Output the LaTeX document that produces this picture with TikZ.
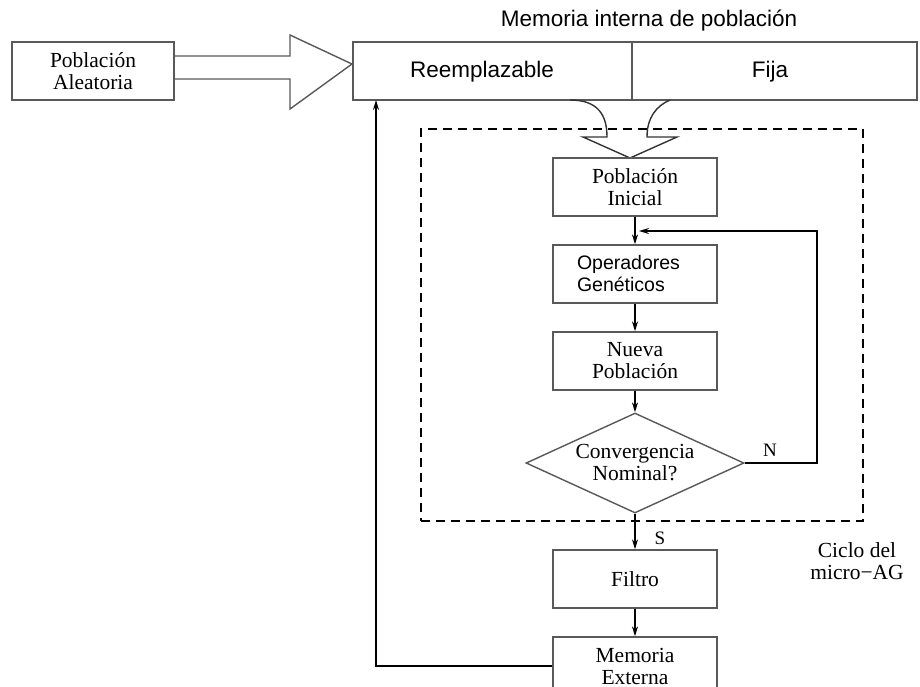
\documentclass[tikz,border=0pt]{standalone}
\usepackage{fontspec}
\setmainfont{Liberation Serif}
\newfontfamily\arialf{Liberation Sans}
\usetikzlibrary{shapes.geometric,arrows.meta}
\newcommand\serifsz{\fontsize{21.5}{22}\selectfont}
\newcommand\sanssz{\arialf\fontsize{22.5}{24}\selectfont}
\newcommand\opsz{\arialf\fontsize{19.5}{22}\selectfont}
\begin{document}
\begin{tikzpicture}[x=1pt,y=-1pt,
  box/.style={draw=black!65,line width=1.4pt,minimum width=164pt,minimum height=58pt,inner sep=0pt,align=center,font=\serifsz},
  arr/.style={line width=1.4pt,draw=black,-{Stealth[length=10pt,width=6pt]}},
  conn/.style={line width=1.4pt,draw=black},
  plain/.style={inner sep=0pt,align=center},
  blockarrow/.style={line width=1.4pt,draw=black!65,line join=miter}
]
\useasboundingbox (0,0) rectangle (920,686);
\fill[white] (0,0) rectangle (920,686);

% left input box
\node[box,minimum width=162pt] (pa) at (93,71) {Población\\Aleatoria};

% memory box
\node[draw=black!65,line width=1.4pt,minimum width=564pt,minimum height=58pt,inner sep=0pt] (mem) at (635,71) {};
\coordinate (divtop) at (632,42);
\coordinate (divbot) at (632,100);
\draw[line width=1.4pt,black!65] (divtop) -- (divbot);
\node[plain,font=\sanssz] (title) at (649,21) {Memoria interna de población};
\node[plain,font=\sanssz] (reem) at (482,72) {Reemplazable};
\node[plain,font=\sanssz] (fija) at (770,72) {Fija};

% big block arrow
\draw[blockarrow] (174,56) -- (290,56) -- (290,35) -- (352,64) -- (290,109) -- (290,79) -- (174,79);

% dashed cycle box
\node[draw=black,dash pattern=on 9pt off 6pt,line width=1.4pt,minimum width=442pt,minimum height=392pt,inner sep=0pt] (cyc) at (642,325) {};

% merging curved arrow
\draw[line width=1.4pt,black!80,line join=miter] (570,100) .. controls (598,100) and (607,115) .. (607,137) -- (583,137) -- (630,158) -- (677,137) -- (647,137) .. controls (647,118) and (656,106) .. (670,100);

% flow nodes
\node[box] (pi) at (635,187) {Población\\Inicial};
\node[box,text width=116pt,align=left,font=\opsz] (og) at (635,274) {Operadores\\Genéticos};
\node[box] (np) at (635,361) {Nueva\\Población};
\node[diamond,draw=black!65,line width=1.4pt,aspect=2.18,minimum width=218pt,minimum height=100pt,inner sep=0pt,align=center,font=\serifsz] (conv) at (635,463) {Convergencia\\Nominal?};
\node[box] (fil) at (635,579) {Filtro};
\node[box] (me) at (635,666) {Memoria\\Externa};

% connectors
\draw[arr] (pi) -- (og);
\draw[arr] (og) -- (np);
\draw[arr] (np) -- (conv);
\draw[arr] (conv) -- (fil);
\draw[arr] (fil) -- (me);
\coordinate (loopR) at (817,463);
\coordinate (loopT) at (817,231);
\coordinate (loopEnd) at (639,231);
\draw[arr] (conv.east) -- (loopR) -- (loopT) -- (loopEnd);
\coordinate (fbL) at (376,666);
\coordinate (fbT) at (376,100);
\draw[arr] (me.west) -- (fbL) -- (fbT);

% labels
\node[plain,font=\fontsize{19}{20}\selectfont] (nlab) at (770,450) {N};
\node[plain,font=\fontsize{19}{20}\selectfont] (slab) at (660,538) {S};
\node[plain,font=\serifsz] (ciclo) at (857,561) {Ciclo del\\micro−AG};
\end{tikzpicture}
\end{document}
